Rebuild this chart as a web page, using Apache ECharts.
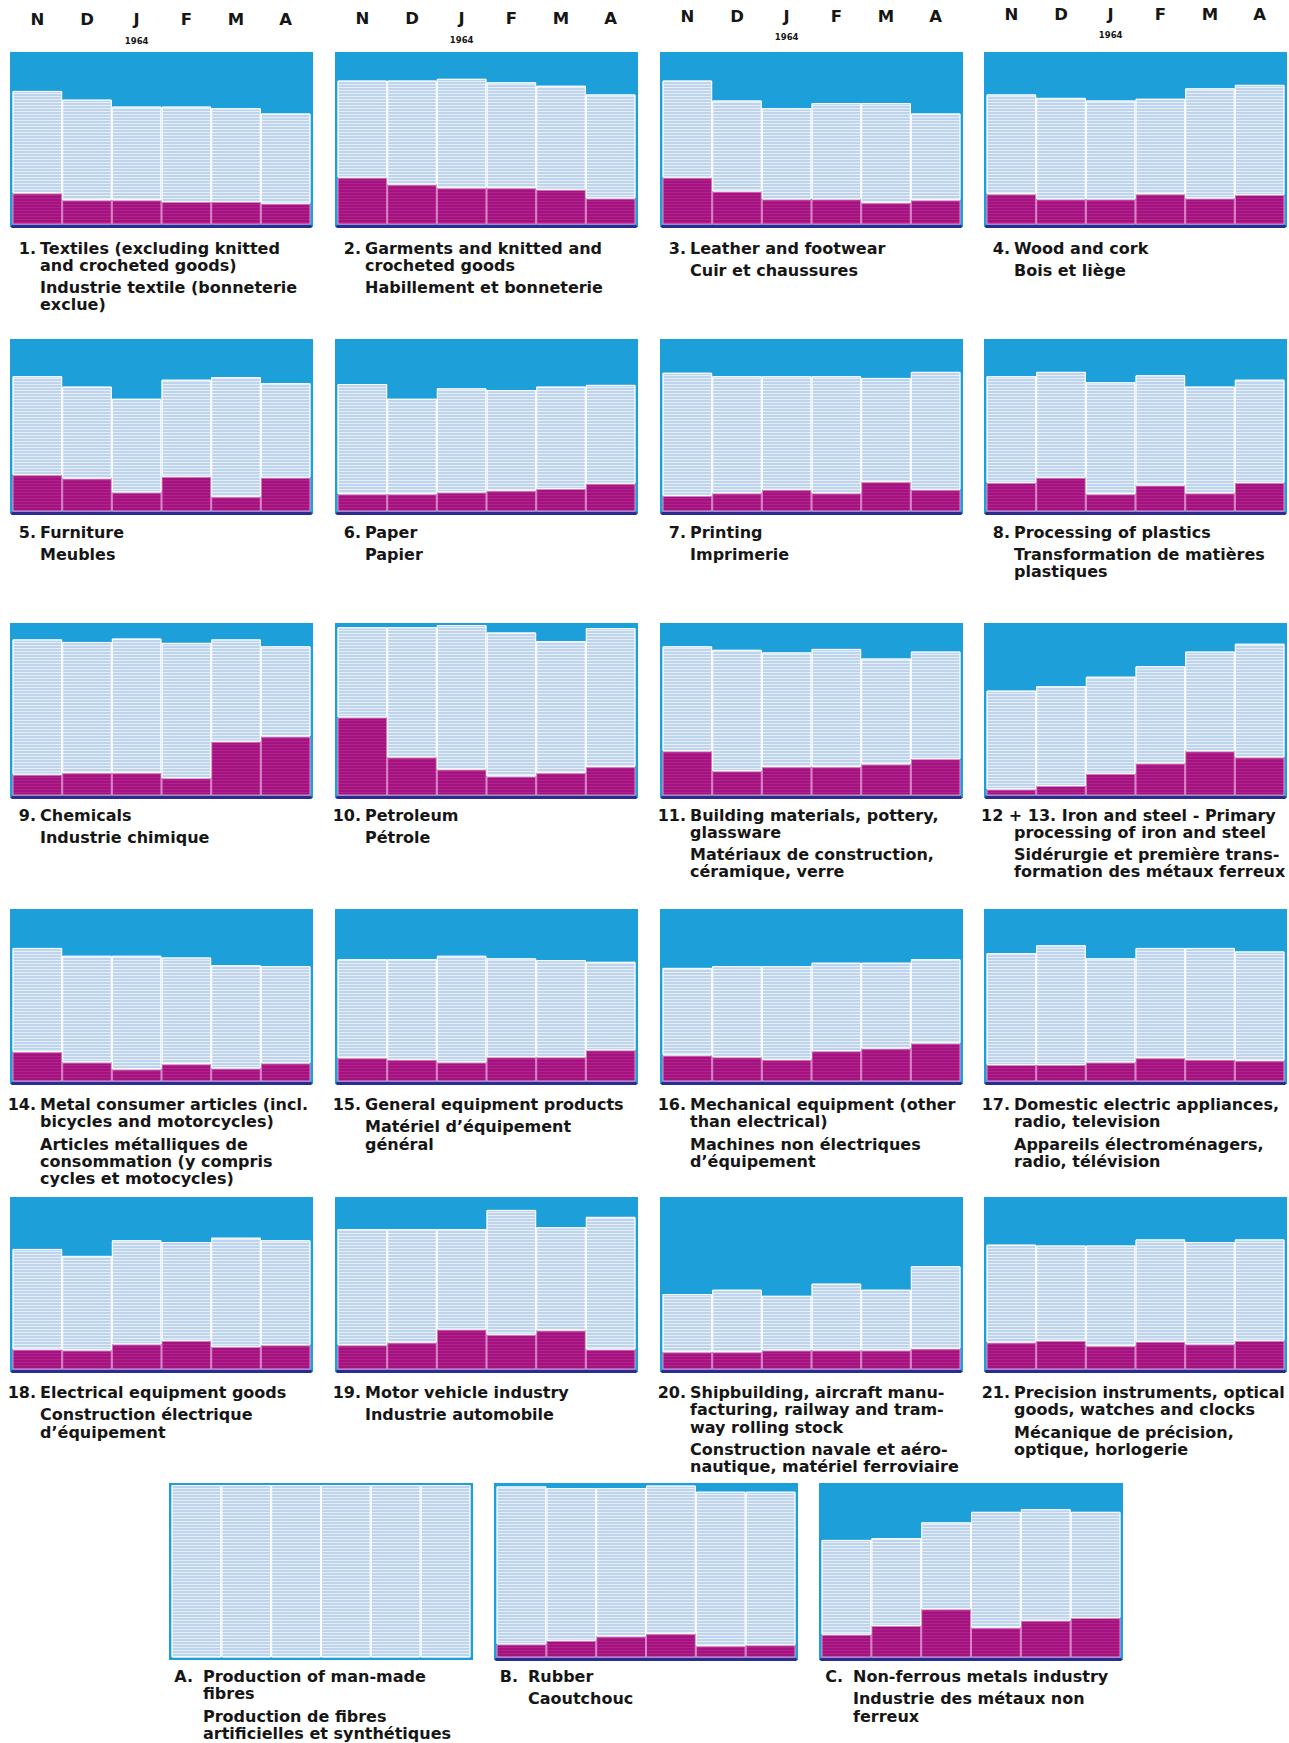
<!DOCTYPE html>
<html>
<head>
<meta charset="utf-8">
<script src="https://cdn.jsdelivr.net/npm/echarts@6/dist/echarts.min.js"></script>
<style>
html,body{margin:0;padding:0;background:#ffffff;}
#c{width:1289px;height:1743px;}
</style>
</head>
<body>
<div id="c"></div>
<script>
// ---------------- DATA (% of panel height) ----------------
const months = ['N', 'D', 'J', 'F', 'M', 'A'];
const yearLabel = '1964';

// "Light" = top of the light-blue band (cumulative), "Dark" = top of the magenta band
const textilesLight   = [77, 72, 68, 68, 67, 64];
const textilesDark    = [18, 14, 14, 13, 13, 12];
const garmentsLight   = [83, 83, 84, 82, 80, 75];
const garmentsDark    = [27, 23, 21, 21, 20, 15];
const leatherLight    = [83, 71.5, 67, 70, 70, 64];
const leatherDark     = [27, 19, 14.5, 14.5, 12.5, 14];
const woodLight       = [75, 73, 71.5, 72.5, 78.5, 80.5];
const woodDark        = [17.5, 14.5, 14.5, 17.5, 15, 17];
const furnitureLight  = [78, 72, 65, 76, 77.5, 74];
const furnitureDark   = [21, 19, 11, 20, 8.5, 19.5];
const paperLight      = [73.5, 65, 71, 70, 72, 73];
const paperDark       = [10, 10, 11, 12, 13, 16];
const printingLight   = [80, 78, 78, 78, 77, 80.5];
const printingDark    = [9, 10.5, 12.5, 10.5, 17, 12.5];
const plasticsLight   = [78, 80.5, 74.5, 78.5, 72, 76];
const plasticsDark    = [16.5, 19.5, 10, 15, 10.5, 16.5];
const chemicalsLight  = [90, 88.5, 90.5, 88, 90, 86];
const chemicalsDark   = [12, 13, 13, 10, 31, 34];
const petroleumLight  = [97, 97, 98.5, 94, 89, 96.5];
const petroleumDark   = [45, 22, 15, 11, 13, 16.5];
const buildingLight   = [86, 84, 82.5, 84.5, 79, 83];
const buildingDark    = [25.5, 14, 16.5, 16.5, 18, 21];
const ironLight       = [60.5, 63, 68.5, 74.5, 83, 87.5];
const ironDark        = [3.5, 5.5, 12.5, 18.5, 25.5, 22];
const metalLight      = [77, 72.5, 72.5, 71.5, 67, 66.5];
const metalDark       = [17, 11, 7, 10, 7.5, 10.5];
const generalLight    = [70.5, 70.5, 72.5, 71, 70, 69];
const generalDark     = [13.5, 12.5, 11, 14, 14, 18];
const mechanicalLight = [65.5, 66.5, 66.5, 68.5, 68.5, 70.5];
const mechanicalDark  = [15, 14, 12.5, 17.5, 19, 22];
const domesticLight   = [74, 78.5, 71, 77, 77, 75];
const domesticDark    = [9.5, 9.5, 11, 13.5, 12.5, 12];
const electricalLight = [69.5, 65.5, 74.5, 73.5, 76, 74.5];
const electricalDark  = [11.5, 11, 14.5, 16.5, 13, 14];
const motorLight      = [81, 81, 81, 92, 82, 88];
const motorDark       = [14, 15.5, 23, 20, 22.5, 11.5];
const shipLight       = [43.5, 46, 42.5, 49.5, 46, 59.5];
const shipDark        = [10, 10, 11, 11, 11, 12];
const precisionLight  = [72, 71.5, 71.5, 75, 73.5, 75];
const precisionDark   = [15.5, 16.5, 13.5, 16, 14.5, 16.5];
const fibresLight     = [100, 100, 100, 100, 100, 100];
const fibresDark      = [0, 0, 0, 0, 0, 0];
const rubberLight     = [97.5, 96.5, 96.5, 98, 94.5, 94.5];
const rubberDark      = [7.5, 9.5, 12, 13.5, 6.5, 7];
const nonferrousLight = [67, 68, 77, 83, 84.5, 83];
const nonferrousDark  = [13, 18, 27.5, 17, 21, 22.5];

// ---------------- LABELS ----------------
const panels = [
  {num: '1.', en: ['Textiles (excluding knitted', 'and crocheted goods)'], fr: ['Industrie textile (bonneterie', 'exclue)'], light: textilesLight, dark: textilesDark},
  {num: '2.', en: ['Garments and knitted and', 'crocheted goods'], fr: ['Habillement et bonneterie'], light: garmentsLight, dark: garmentsDark},
  {num: '3.', en: ['Leather and footwear'], fr: ['Cuir et chaussures'], light: leatherLight, dark: leatherDark},
  {num: '4.', en: ['Wood and cork'], fr: ['Bois et liège'], light: woodLight, dark: woodDark},
  {num: '5.', en: ['Furniture'], fr: ['Meubles'], light: furnitureLight, dark: furnitureDark},
  {num: '6.', en: ['Paper'], fr: ['Papier'], light: paperLight, dark: paperDark},
  {num: '7.', en: ['Printing'], fr: ['Imprimerie'], light: printingLight, dark: printingDark},
  {num: '8.', en: ['Processing of plastics'], fr: ['Transformation de matières', 'plastiques'], light: plasticsLight, dark: plasticsDark},
  {num: '9.', en: ['Chemicals'], fr: ['Industrie chimique'], light: chemicalsLight, dark: chemicalsDark},
  {num: '10.', en: ['Petroleum'], fr: ['Pétrole'], light: petroleumLight, dark: petroleumDark},
  {num: '11.', en: ['Building materials, pottery,', 'glassware'], fr: ['Matériaux de construction,', 'céramique, verre'], light: buildingLight, dark: buildingDark},
  {num: '12 + 13.', en: ['Iron and steel - Primary', 'processing of iron and steel'], fr: ['Sidérurgie et première trans-', 'formation des métaux ferreux'], light: ironLight, dark: ironDark},
  {num: '14.', en: ['Metal consumer articles (incl.', 'bicycles and motorcycles)'], fr: ['Articles métalliques de', 'consommation (y compris', 'cycles et motocycles)'], light: metalLight, dark: metalDark},
  {num: '15.', en: ['General equipment products'], fr: ['Matériel d’équipement', 'général'], light: generalLight, dark: generalDark},
  {num: '16.', en: ['Mechanical equipment (other', 'than electrical)'], fr: ['Machines non électriques', 'd’équipement'], light: mechanicalLight, dark: mechanicalDark},
  {num: '17.', en: ['Domestic electric appliances,', 'radio, television'], fr: ['Appareils électroménagers,', 'radio, télévision'], light: domesticLight, dark: domesticDark},
  {num: '18.', en: ['Electrical equipment goods'], fr: ['Construction électrique', 'd’équipement'], light: electricalLight, dark: electricalDark},
  {num: '19.', en: ['Motor vehicle industry'], fr: ['Industrie automobile'], light: motorLight, dark: motorDark},
  {num: '20.', en: ['Shipbuilding, aircraft manu-', 'facturing, railway and tram-', 'way rolling stock'], fr: ['Construction navale et aéro-', 'nautique, matériel ferroviaire'], light: shipLight, dark: shipDark},
  {num: '21.', en: ['Precision instruments, optical', 'goods, watches and clocks'], fr: ['Mécanique de précision,', 'optique, horlogerie'], light: precisionLight, dark: precisionDark},
  {num: 'A.', en: ['Production of man-made', 'fibres'], fr: ['Production de fibres', 'artificielles et synthétiques'], light: fibresLight, dark: fibresDark},
  {num: 'B.', en: ['Rubber'], fr: ['Caoutchouc'], light: rubberLight, dark: rubberDark},
  {num: 'C.', en: ['Non-ferrous metals industry'], fr: ['Industrie des métaux non', 'ferreux'], light: nonferrousLight, dark: nonferrousDark}
];

// ---------------- STYLE / LAYOUT ----------------
const FONT = 'DejaVu Sans';
const FS = 16;
const SKY = '#1d9fd9';
const LIGHT = '#bed4ed';
const MAG = '#a3137f';
const NAVY = '#2c2b8f';
const INK = '#161616';

const colX = [10, 335, 660, 984];
const rowY = [52, 339, 623, 909, 1197];
const PW = 303, PH = 176;
const row6X = [169, 494, 819];
const row6Y = 1483, row6H = 178;
const labelOff = [20, 17, 16, 19.5, 19.5, 15.5];
const headMargin = [4, 5, 7.5, 9.5];
const LH = 17.3;       // line height of labels
const PARA_GAP = 5;    // extra gap between English and French blocks

const lightDecal = {symbol: 'rect', symbolSize: 1, color: 'rgba(255,255,255,0.62)', dashArrayX: [40, 0], dashArrayY: [1, 2], rotation: 0};
const darkDecal  = {symbol: 'rect', symbolSize: 1, color: 'rgba(255,120,200,0.16)', dashArrayX: [40, 0], dashArrayY: [1, 2], rotation: 0};

const grids = [], xAxes = [], yAxes = [], series = [], texts = [];

function txt(x, y, lines, align) {
  texts.push({
    type: 'text', x: x, y: y, silent: true, z: 10,
    style: {
      text: lines.join('\n'), fill: INK, fontFamily: FONT, fontWeight: 'bold', fontSize: FS,
      lineHeight: LH, align: align || 'left', verticalAlign: 'top'
    }
  });
}

panels.forEach((p, i) => {
  let x, y, w, h, row, col;
  if (i < 20) { row = Math.floor(i / 4); col = i % 4; x = colX[col]; y = rowY[row]; w = PW; h = PH; }
  else { row = 5; col = i - 20; x = row6X[col]; y = row6Y; w = PW + 1; h = row6H; }
  const hasDark = p.dark.some(v => v > 0);

  grids.push({
    left: x + 2.5, top: y + 2.5, width: w - 5, height: h - 6,
    show: true, backgroundColor: SKY, borderColor: SKY, borderWidth: 5
  });
  xAxes.push({
    gridIndex: i, type: 'category', data: months, position: 'bottom', offset: 1.5, z: 5,
    axisLine: {show: hasDark, onZero: false, lineStyle: {color: NAVY, width: 3}},
    axisTick: {show: false}, axisLabel: {show: false}, splitLine: {show: false}
  });
  const xi = xAxes.length - 1;
  if (row === 0) {
    xAxes.push({
      gridIndex: i, type: 'category', data: months, position: 'top',
      axisLine: {show: false}, axisTick: {show: false}, splitLine: {show: false},
      axisLabel: {
        interval: 0, margin: headMargin[col],
        formatter: v => v === 'J' ? '{m|J}\n{y|' + yearLabel + '}' : '{m|' + v + '}\n{y| }',
        rich: {
          m: {fontFamily: FONT, fontWeight: 'bold', fontSize: 16.5, color: INK, lineHeight: 22},
          y: {fontFamily: FONT, fontWeight: 'bold', fontSize: 8.5, color: INK, lineHeight: 20}
        }
      }
    });
  }
  yAxes.push({gridIndex: i, type: 'value', min: 0, max: 98, show: false});

  series.push({
    type: 'bar', name: 'dark' + i, xAxisIndex: xi, yAxisIndex: i, stack: 'p' + i,
    data: p.dark, barCategoryGap: '0%', silent: true, clip: true,
    itemStyle: {color: MAG, borderColor: 'rgba(255,140,205,0.55)', borderWidth: hasDark ? 1 : 0, decal: darkDecal}
  });
  series.push({
    type: 'bar', name: 'light' + i, xAxisIndex: xi, yAxisIndex: i, stack: 'p' + i,
    data: p.light.map((t, k) => +(t - p.dark[k]).toFixed(2)), barCategoryGap: '0%', silent: true, clip: true,
    itemStyle: {color: LIGHT, borderColor: 'rgba(255,255,255,0.85)', borderWidth: 1, decal: lightDecal}
  });

  // labels
  const bottom = y + h;
  const top1 = bottom + labelOff[row] - LH / 2;
  const letterLabel = row === 5;
  const bodyX = x + (letterLabel ? 34 : 30);
  const numRight = x + (letterLabel ? 24 : 26);
  if (p.num.length > 4) {
    txt(x - 3, top1, [p.num + ' ' + p.en[0]]);
    if (p.en.length > 1) txt(bodyX, top1 + LH, p.en.slice(1));
  } else {
    txt(numRight, top1, [p.num], 'right');
    txt(bodyX, top1, p.en);
  }
  txt(bodyX, top1 + p.en.length * LH + PARA_GAP, p.fr);
});

const chart = echarts.init(document.getElementById('c'), null, {renderer: 'svg', width: 1289, height: 1743});
chart.setOption({
  backgroundColor: '#ffffff',
  animation: false,
  grid: grids,
  xAxis: xAxes,
  yAxis: yAxes,
  series: series,
  graphic: {elements: texts}
});
</script>
</body>
</html>
